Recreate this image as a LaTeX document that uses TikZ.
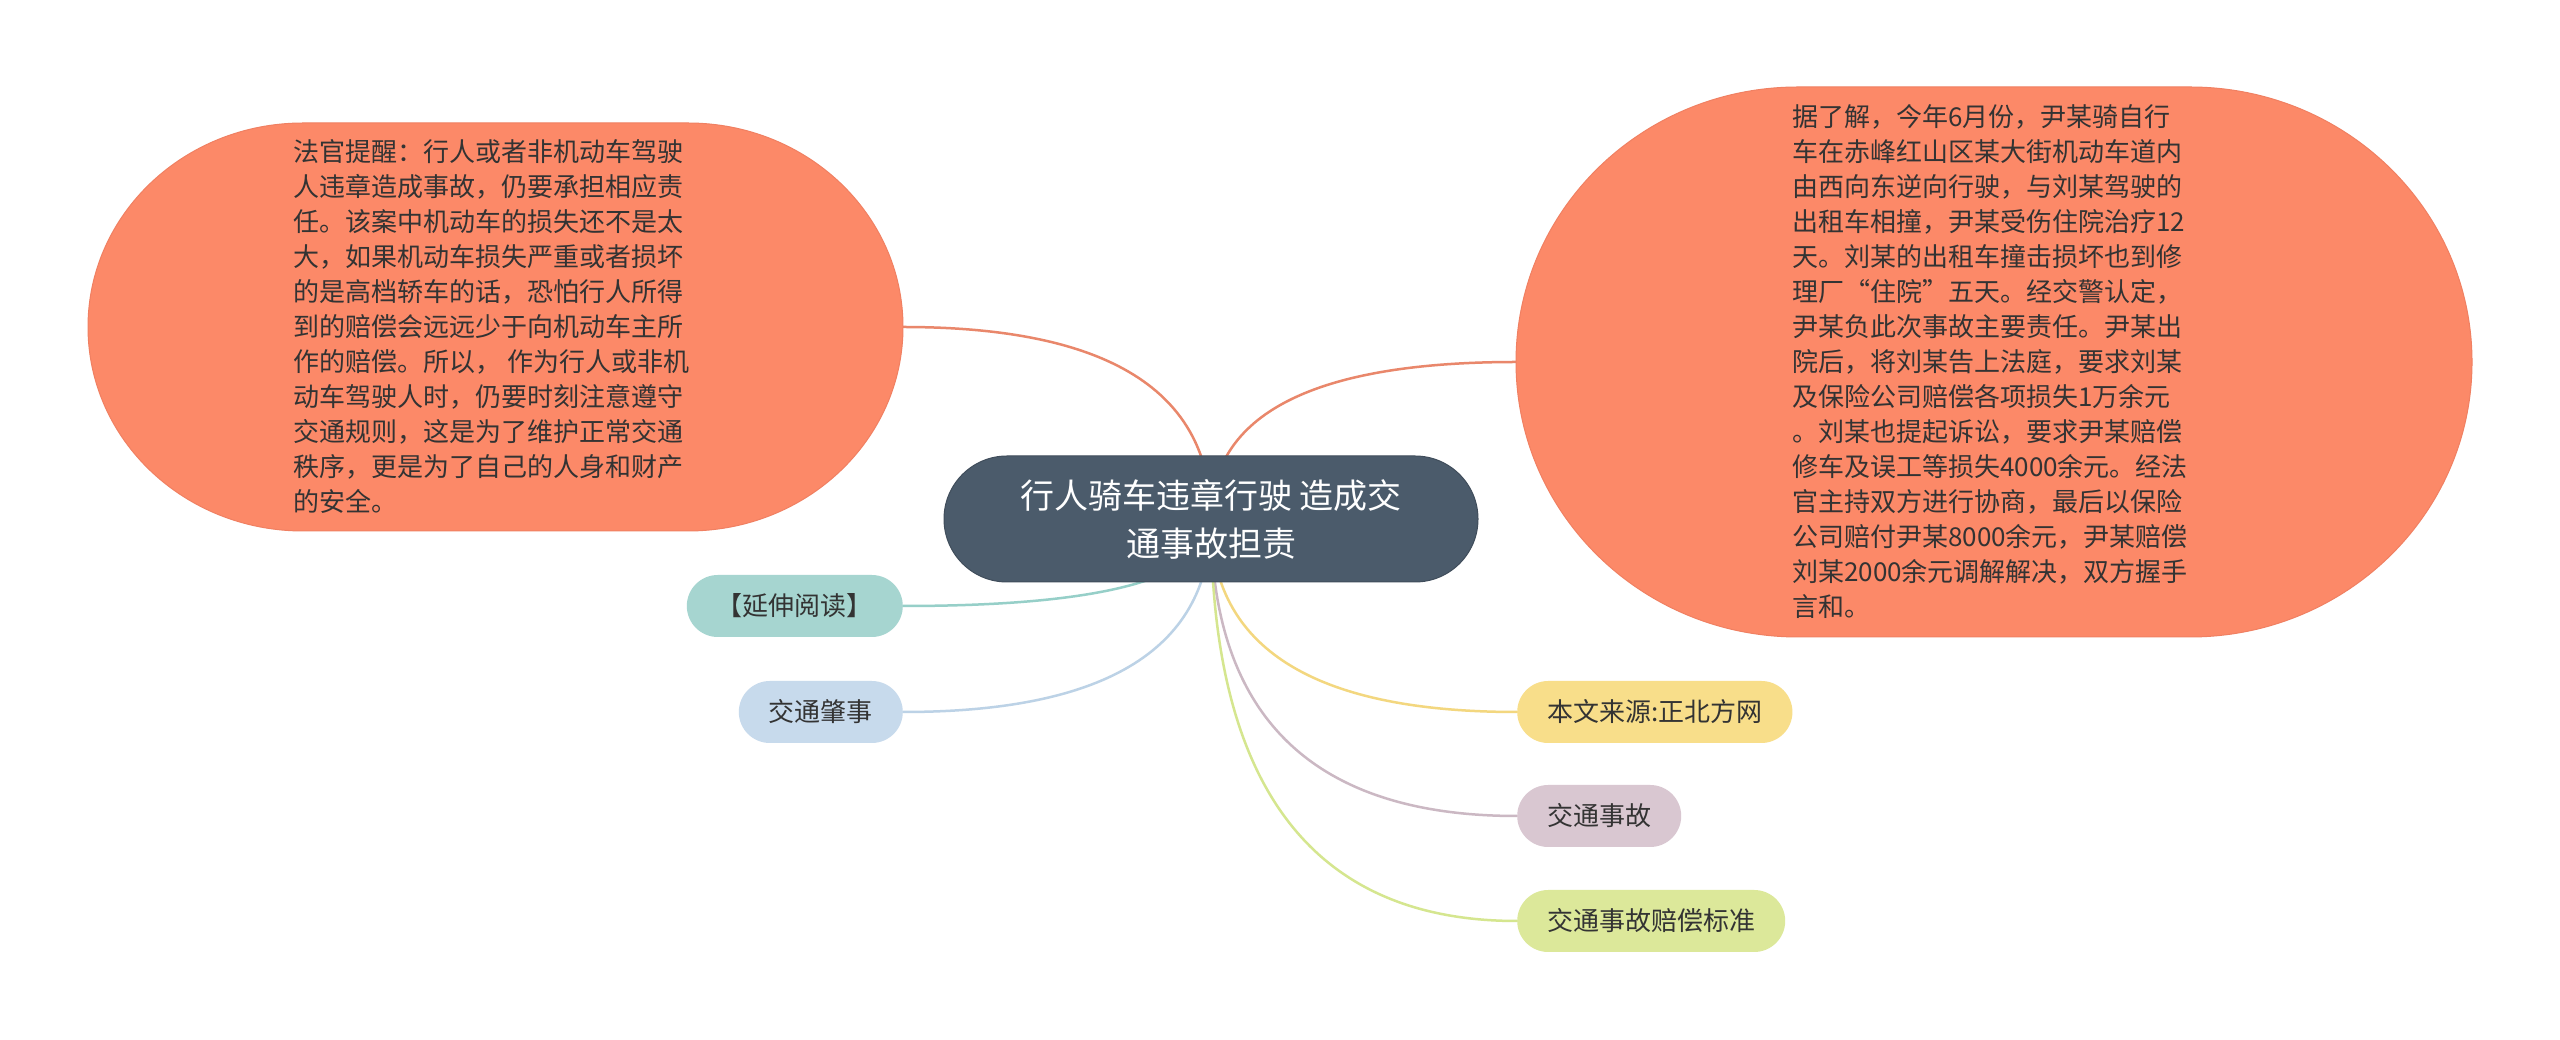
\documentclass[tikz,border=0pt]{standalone}
\usepackage{fontspec}
\setmainfont{Noto Sans CJK SC}
\usetikzlibrary{calc,backgrounds}
\definecolor{salmonc}{HTML}{FC8968}
\definecolor{salmonedge}{HTML}{F08062}
\definecolor{rootc}{HTML}{4B5B6B}
\definecolor{tealc}{HTML}{A6D5D0}
\definecolor{bluec}{HTML}{C7DAEC}
\definecolor{yelc}{HTML}{F8DE8A}
\definecolor{mauc}{HTML}{D9C7D1}
\definecolor{grnc}{HTML}{DCE89A}
\definecolor{lorange}{HTML}{E9876B}
\definecolor{lteal}{HTML}{96CFC8}
\definecolor{lblue}{HTML}{BCD2E6}
\definecolor{lyel}{HTML}{F3D77F}
\definecolor{lmau}{HTML}{CBB8C3}
\definecolor{lgrn}{HTML}{D5E68F}
\definecolor{textc}{HTML}{333333}
\newcommand\myconn[2]{\draw[conn,#1] (root.center) .. controls ($(root.center)!0.6667!(root.center |- #2)$) and ($(#2)!0.6667!(root.center |- #2)$) .. (#2);}
\tikzset{
  rootbox/.style={fill=rootc, draw=rootc!85!black, line width=1pt, rounded corners=63pt, minimum width=534pt, minimum height=126pt, text=white, font=\fontsize{34pt}{48pt}\selectfont, align=center, inner sep=0pt},
  bigshape/.style={fill=salmonc, draw=salmonedge, line width=1pt},
  bigtext/.style={text=textc, font=\fontsize{26pt}{35pt}\selectfont, align=left, inner sep=0pt, anchor=west},
  pill/.style={rounded corners=31pt, minimum height=62pt, inner xsep=30pt, inner ysep=0pt, font=\fontsize{26pt}{30pt}\selectfont, text=textc},
  conn/.style={line width=2.5pt, line cap=round}
}
\begin{document}
\begin{tikzpicture}[x=1pt,y=1pt]
\useasboundingbox (0,0) rectangle (2560,1039);
% big shapes
\path[bigshape] (303,916) -- (688,916) arc[start angle=90,end angle=-90,x radius=215pt,y radius=204pt] -- (303,508) arc[start angle=270,end angle=90,x radius=215pt,y radius=204pt] -- cycle;
\path[bigshape] (1798,952) -- (2190,952) arc[start angle=90,end angle=-90,x radius=282pt,y radius=275pt] -- (1798,402) arc[start angle=270,end angle=90,x radius=282pt,y radius=275pt] -- cycle;
\coordinate (Lr) at (903,712);
\coordinate (Rl) at (1516,677);
% texts
\node[bigtext] (L) at (293,712) {法官提醒：行人或者非机动车驾驶\\人违章造成事故，仍要承担相应责\\任。该案中机动车的损失还不是太\\大，如果机动车损失严重或者损坏\\的是高档轿车的话，恐怕行人所得\\到的赔偿会远远少于向机动车主所\\作的赔偿。所以， 作为行人或非机\\动车驾驶人时，仍要时刻注意遵守\\交通规则，这是为了维护正常交通\\秩序，更是为了自己的人身和财产\\的安全。};
\node[bigtext] (R) at (1792,677) {据了解，今年6月份，尹某骑自行\\车在赤峰红山区某大街机动车道内\\由西向东逆向行驶，与刘某驾驶的\\出租车相撞，尹某受伤住院治疗12\\天。刘某的出租车撞击损坏也到修\\理厂“住院”五天。经交警认定，\\尹某负此次事故主要责任。尹某出\\院后，将刘某告上法庭，要求刘某\\及保险公司赔偿各项损失1万余元\\。刘某也提起诉讼，要求尹某赔偿\\修车及误工等损失4000余元。经法\\官主持双方进行协商，最后以保险\\公司赔付尹某8000余元，尹某赔偿\\刘某2000余元调解解决，双方握手\\言和。};
% root
\node[rootbox] (root) at (1211,520) {行人骑车违章行驶 造成交\\通事故担责};
% small nodes
\node[pill, fill=tealc, anchor=east] (yan) at (903,433) {【延伸阅读】};
\node[pill, fill=bluec, anchor=east] (zhao) at (903,327) {交通肇事};
\node[pill, fill=yelc, anchor=west] (src) at (1517,327) {本文来源:正北方网};
\node[pill, fill=mauc, anchor=west] (sg) at (1517,223) {交通事故};
\node[pill, fill=grnc, anchor=west] (bz) at (1517,118) {交通事故赔偿标准};
% connectors
\begin{pgfonlayer}{background}
\fill[white] (0,0) rectangle (2560,1039);
\myconn{lorange}{Lr}
\myconn{lorange}{Rl}
\myconn{lteal}{yan.east}
\myconn{lblue}{zhao.east}
\myconn{lyel}{src.west}
\myconn{lmau}{sg.west}
\myconn{lgrn}{bz.west}
\end{pgfonlayer}
\end{tikzpicture}
\end{document}
